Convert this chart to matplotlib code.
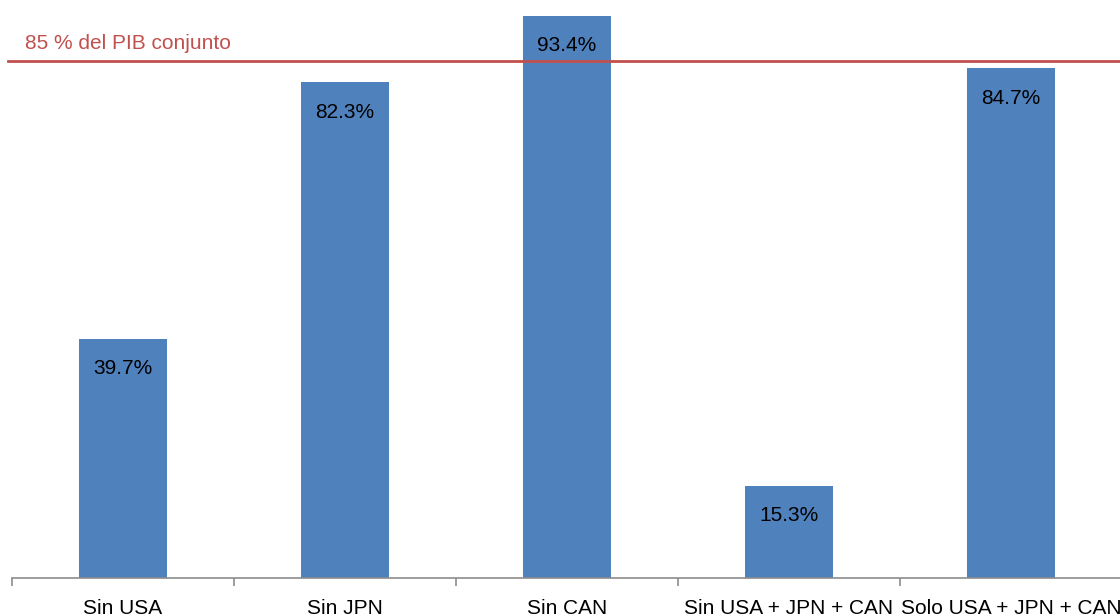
import matplotlib
matplotlib.use("Agg")
import matplotlib.pyplot as plt
import matplotlib.transforms as mtransforms

categories = ["Sin USA", "Sin JPN", "Sin CAN", "Sin USA + JPN + CAN", "Solo USA + JPN + CAN"]
values = [39.7, 82.3, 93.4, 15.3, 84.7]
value_labels = ["39.7%", "82.3%", "93.4%", "15.3%", "84.7%"]
threshold_label = "85 % del PIB conjunto"
threshold_level = 85.8  # drawn position

plt.rcParams['font.family'] = ['Liberation Sans', 'DejaVu Sans']

fig = plt.figure(figsize=(11.2, 6.16), dpi=100)
ax = fig.add_axes([12 / 1120, 38 / 616, 1110 / 1120, 578 / 616])

bar_color = "#4f81bd"
red = "#c0504d"
x = list(range(len(categories)))
ax.bar(x, values, width=0.4, color=bar_color, zorder=2)

for xi, v, lab in zip(x, values, value_labels):
    ax.annotate(lab, (xi, v), xytext=(0, -30), textcoords="offset pixels",
                ha="center", va="center", fontsize=15, color="black", zorder=4)

ax.set_xlim(-0.5, len(categories) - 0.5)
ax.set_ylim(0, 96)

for s in ["left", "right", "top"]:
    ax.spines[s].set_visible(False)
ax.spines["bottom"].set_color("#8c8c8c")
ax.spines["bottom"].set_linewidth(1.2)
ax.set_yticks([])

ax.set_xticks(x)
ax.set_xticklabels(categories, fontsize=15)
ax.tick_params(axis="x", which="major", length=0, pad=15)
ax.set_xticks([i - 0.5 for i in range(len(categories) + 1)], minor=True)
ax.tick_params(axis="x", which="minor", length=6, color="#8c8c8c", width=1.2)

trans = mtransforms.blended_transform_factory(fig.transFigure, ax.transData)
ax.plot([8 / 1120, 1.0], [threshold_level, threshold_level], color=red, lw=2,
        transform=trans, clip_on=False, zorder=3)
ax.text(25 / 1120, threshold_level + 1.4, threshold_label, transform=trans, color=red,
        fontsize=15, ha="left", va="bottom")

fig.savefig("out.png", dpi=100)
